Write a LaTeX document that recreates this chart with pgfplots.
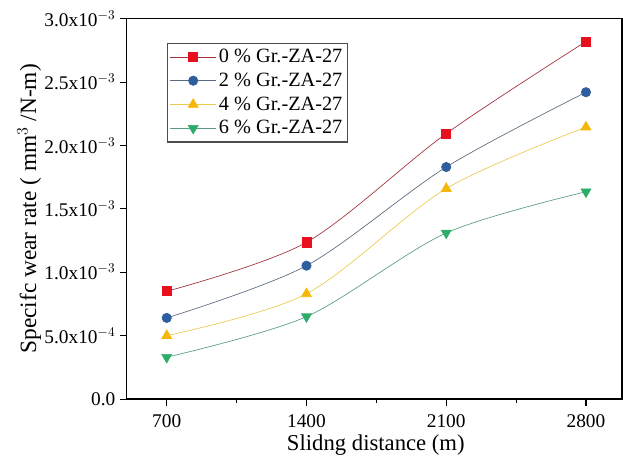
\documentclass[border=0pt]{standalone}
\usepackage{pgfplots}
\pgfplotsset{compat=1.18}
\usepackage{fontspec}
\setmainfont{Liberation Serif}

\definecolor{cred}{HTML}{E8101C}
\definecolor{credl}{HTML}{A0303A}
\definecolor{cblue}{HTML}{2F5E9E}
\definecolor{cbluel}{HTML}{5A6A80}
\definecolor{cyel}{HTML}{F5B70A}
\definecolor{cyell}{HTML}{EACB50}
\definecolor{cgrn}{HTML}{2EAD6A}
\definecolor{cgrnl}{HTML}{5A9A88}

\begin{document}
\begin{tikzpicture}
\useasboundingbox (-95pt,-52pt) rectangle (371.8pt,299pt);
\begin{axis}[
    scale only axis,
    width=371pt, height=285pt,
    xmin=500, xmax=2980,
    ymin=0, ymax=3.0,
    xtick={700,1400,2100,2800},
    minor xtick={1050,1750,2450},
    ytick={0,0.5,1.0,1.5,2.0,2.5,3.0},
    yticklabels={0.0,{5.0x10$^{-4}$},{1.0x10$^{-3}$},{1.5x10$^{-3}$},{2.0x10$^{-3}$},{2.5x10$^{-3}$},{3.0x10$^{-3}$}},
    xticklabel style={/pgf/number format/1000 sep={}, yshift=-3pt},
    /pgf/number format/assume math mode=true,
    tick align=outside,
    xtick pos=bottom, ytick pos=left,
    major tick length=5pt, minor tick length=3pt,
    tick style={black, line width=0.8pt},
    axis line style={line width=1pt},
    tick label style={font=\fontsize{14.5}{16}\selectfont},
    xlabel={Slidng distance (m)},
    ylabel={Specifc wear rate ( mm$^3$ /N-m)},
    xlabel style={at={(axis description cs:0.503,-0.122)}, anchor=center,
        font=\fontsize{17}{19}\selectfont},
    ylabel style={at={(axis description cs:-0.197,0.5)}, anchor=center,
        font=\fontsize{17.5}{19}\selectfont},
    legend style={at={(0.081,0.937)}, anchor=north west, draw=black!70,
        line width=0.8pt,
        font=\fontsize{15.2}{17.5}\selectfont, row sep=2.2pt,
        inner xsep=2pt, inner ysep=2.5pt},
    legend cell align=left,
    legend image code/.code={
        \draw[mark repeat=2, mark phase=2, line width=0.5pt]
            plot coordinates {(0cm,0cm) (0.6cm,0cm) (1.2cm,0cm)};
    },
]
\addplot[credl, line width=0.5pt, smooth, mark=square*, mark size=3.4pt,
    mark options={draw=cred, fill=cred}] coordinates {
    (700,0.850) (1400,1.236) (2100,2.094) (2800,2.820)
};
\addlegendentry{0 \% Gr.-ZA-27}
\addplot[cbluel, line width=0.5pt, smooth, mark=*, mark size=3.5pt,
    mark options={draw=cblue, fill=cblue}] coordinates {
    (700,0.640) (1400,1.052) (2100,1.830) (2800,2.420)
};
\addlegendentry{2 \% Gr.-ZA-27}
\addplot[cyell, line width=0.5pt, smooth, mark=triangle*, mark size=4.3pt,
    mark options={draw=cyel, fill=cyel}] coordinates {
    (700,0.500) (1400,0.830) (2100,1.660) (2800,2.145)
};
\addlegendentry{4 \% Gr.-ZA-27}
\addplot[cgrnl, line width=0.5pt, smooth, mark=triangle*, mark size=4.3pt,
    mark options={draw=cgrn, fill=cgrn, rotate=180}] coordinates {
    (700,0.330) (1400,0.650) (2100,1.310) (2800,1.635)
};
\addlegendentry{6 \% Gr.-ZA-27}
\end{axis}
\end{tikzpicture}
\end{document}
